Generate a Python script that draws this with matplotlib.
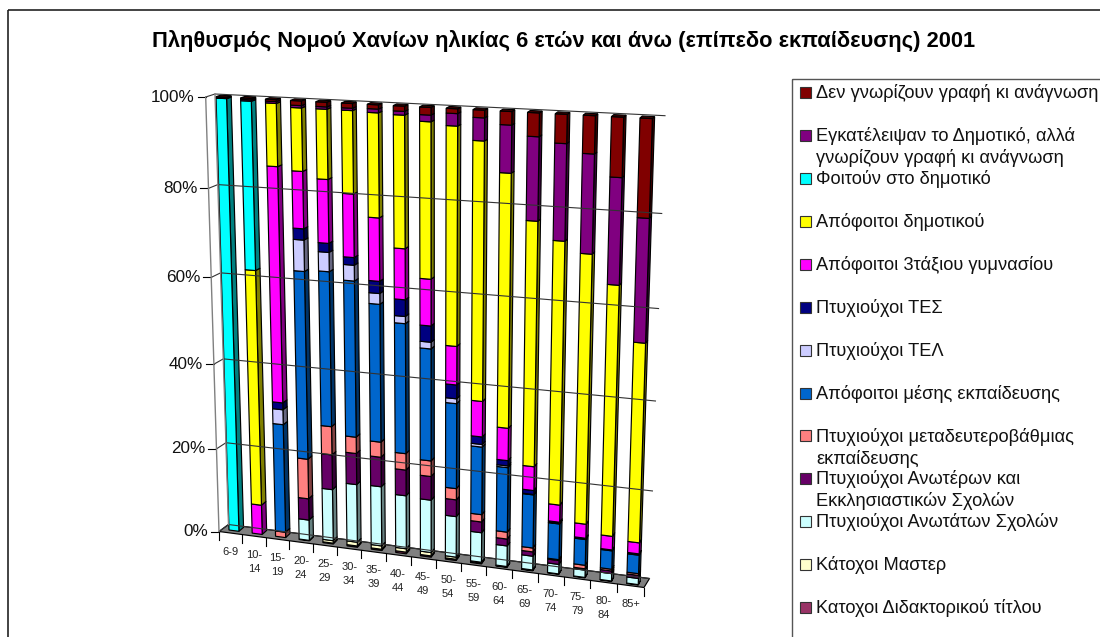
import numpy as np
import matplotlib
matplotlib.use('Agg')
import matplotlib.pyplot as plt
from matplotlib.colors import to_rgb
from matplotlib.patches import Rectangle

plt.rcParams['font.family'] = ['Liberation Sans', 'DejaVu Sans']

title = 'Πληθυσμός Νομού Χανίων ηλικίας 6 ετών και άνω (επίπεδο εκπαίδευσης) 2001'

ages = ['6-9', '10-\n14', '15-\n19', '20-\n24', '25-\n29', '30-\n34', '35-\n39', '40-\n44', '45-\n49',
        '50-\n54', '55-\n59', '60-\n64', '65-\n69', '70-\n74', '75-\n79', '80-\n84', '85+']
y_ticks = [0, 20, 40, 60, 80, 100]

# shares per age group, bottom of the stack first
didaktoriko = [0, 0, 0, 0, .2, .3, .3, .4, .3, .3, .2, .1, .1, 0, 0, 0, 0]
master = [0, 0, 0, .1, .6, .9, .8, .8, .8, .5, .2, .1, .1, .1, .1, .1, .1]
anotaton = [0, 0, 0, 4.9, 12.2, 13.7, 14, 12.5, 12.3, 9.5, 6.9, 4.8, 3.2, 2.2, 1.7, 1.7, 1.4]
anoteron = [0, 0, 0, 5.1, 8.2, 7.3, 6.9, 6, 5.5, 3.9, 2.5, 1.6, 1, .9, .3, .6, .7]
metadeut = [0, 0, 1.3, 9.4, 6.6, 3.8, 3.5, 3.8, 3.6, 2.6, 1.7, 1.6, .9, .2, .8, .4, .4]
mesi = [0, 0, 25.7, 43.2, 35.3, 35.5, 31.3, 29.5, 25.4, 19.4, 15.5, 14.8, 12.2, 8.2, 5.9, 4.2, 4.2]
tel = [0, 0, 3.5, 7, 4.3, 3.5, 2.4, 1.6, 1.5, 1.1, .6, .4, .1, .1, 0, 0, 0]
tes = [0, 0, 1.6, 2.5, 2, 1.7, 2.7, 3.7, 3.6, 3.1, 1.7, 1.2, .9, .3, .3, .2, .3]
gymnasio = [0, 7.1, 53.4, 12.6, 14, 13.9, 13.9, 11.2, 10.3, 8.6, 8, 7.3, 5.4, 3.9, 3.2, 3.1, 2.5]
dimotiko = [0, 54.9, 13.7, 13.7, 15.1, 17.9, 22.5, 28.6, 33.7, 47.4, 56.3, 55.3, 53.6, 57.8, 59.1, 55, 43.9]
foitoun = [99.7, 37.4, 0, 0, 0, 0, 0, 0, 0, 0, 0, 0, 0, 0, 0, 0, 0]
egkateleipsan = [.1, .3, .4, .5, .5, .5, .8, .8, 1.4, 2.6, 4.8, 10, 17.6, 20.3, 20.8, 22.4, 26.2]
den_gnorizoun = [.2, .3, .4, 1, 1, 1, .9, 1.1, 1.6, 1, 1.6, 2.8, 4.9, 6, 7.8, 12.3, 20.3]

series = [didaktoriko, master, anotaton, anoteron, metadeut, mesi, tel, tes,
          gymnasio, dimotiko, foitoun, egkateleipsan, den_gnorizoun]
colors = ['#993366', '#FFFFCC', '#CCFFFF', '#660066', '#FF8080', '#0066CC', '#CCCCFF', '#000080',
          '#FF00FF', '#FFFF00', '#00FFFF', '#800080', '#800000']

# legend runs top to bottom, so the reverse of the stack
legend_labels = ['Δεν γνωρίζουν γραφή κι ανάγνωση',
                 'Εγκατέλειψαν το Δημοτικό, αλλά\nγνωρίζουν γραφή κι ανάγνωση',
                 'Φοιτούν στο δημοτικό',
                 'Απόφοιτοι δημοτικού',
                 'Απόφοιτοι 3τάξιου γυμνασίου',
                 'Πτυχιούχοι ΤΕΣ',
                 'Πτυχιούχοι ΤΕΛ',
                 'Απόφοιτοι μέσης εκπαίδευσης',
                 'Πτυχιούχοι μεταδευτεροβάθμιας\nεκπαίδευσης',
                 'Πτυχιούχοι Ανωτέρων και\nΕκκλησιαστικών Σχολών',
                 'Πτυχιούχοι Ανωτάτων Σχολών',
                 'Κάτοχοι Μαστερ',
                 'Κατοχοι Διδακτορικού τίτλου']
legend_colors = colors[::-1]


def plane(bl, br, tr, tl):
  # homography from the unit square to pixels, the chart is an Excel 3D column
  src = [(0, 0), (1, 0), (1, 1), (0, 1)]
  A = []
  b = []
  for (u, v), (x, y) in zip(src, [bl, br, tr, tl]):
    A.append([u, v, 1, 0, 0, 0, -u * x, -v * x])
    A.append([0, 0, 0, u, v, 1, -u * y, -v * y])
    b += [x, y]
  h = np.linalg.solve(np.array(A, float), np.array(b, float))
  return np.append(h, 1).reshape(3, 3)


def project(H, u, v):
  p = H @ np.array([u, v, 1.0])
  return p[0] / p[2], p[1] / p[2]


bar_front = plane((229, 530), (626.7, 583.5), (640, 118), (216, 96.7))
bar_back = plane((233.7, 526), (628.7, 579.5), (642.3, 116), (220.7, 95.2))
wall_back = plane((228.5, 524.5), (649.5, 578.5), (665, 115.7), (215, 94))
wall_front = plane((219, 531.5), (644, 587.5), (659.5, 118.5), (205.7, 97))

n = len(ages)
bar_w = 0.43
dark = 0.5
edge = 0.85

fig = plt.figure(figsize=(11, 6.37), dpi=100)
ax = fig.add_axes([0, 0, 1, 1])
ax.set_xlim(0, 1100)
ax.set_ylim(637, 0)
ax.axis('off')

ax.add_patch(Rectangle((8, 10), 1200, 800, fill=False, edgecolor='#222222', lw=1.2))
ax.text(152, 41.5, title, fontsize=15.72, fontweight='bold', va='center', ha='left', color='black')

# floor
floor = [project(wall_front, 0, 0), project(wall_front, 1, 0), project(wall_back, 1, 0), project(wall_back, 0, 0)]
ax.fill(*zip(*floor), facecolor='#808080', edgecolor='black', lw=edge)

# walls and gridlines
for t in y_ticks:
  v = t / 100
  x0, y0 = project(wall_front, 0, v)
  x1, y1 = project(wall_back, 0, v)
  x2, y2 = project(wall_back, 1, v)
  ax.plot([x0, x1, x2], [y0, y1, y2], color='#333333', lw=0.8)
  ax.plot([x0 - 8, x0], [y0, y0], color='black', lw=0.8)
  ax.text(x0 - 11, y0, f'{t}%', fontsize=12.3, ha='right', va='center', color='#111111')

for H in (wall_front, wall_back):
  ax.plot(*zip(project(H, 0, 0), project(H, 0, 1)), color='#808080', lw=1)

# category axis
for i in range(n + 1):
  x, y = project(wall_front, i / n, 0)
  ax.plot([x, x], [y, y + 8], color='black', lw=0.8)
for i, age in enumerate(ages):
  x, y = project(wall_front, (i + 0.5) / n, 0)
  ax.text(x, y + 13.5, age, fontsize=8, ha='center', va='top', linespacing=1.5, color='#222222')

# bars
for i in range(n):
  total = sum(s[i] for s in series)
  left = i / (n - 1)
  right = (i + bar_w) / (n - 1)
  bottom = 0.0
  for s, color in zip(series, colors):
    share = s[i] / total
    if share == 0:
      continue
    top = bottom + share
    shade = tuple(c * dark for c in to_rgb(color))
    side = [project(bar_front, right, bottom), project(bar_back, right, bottom),
            project(bar_back, right, top), project(bar_front, right, top)]
    front = [project(bar_front, left, bottom), project(bar_front, right, bottom),
             project(bar_front, right, top), project(bar_front, left, top)]
    ax.fill(*zip(*side), facecolor=shade, edgecolor='black', lw=edge)
    ax.fill(*zip(*front), facecolor=color, edgecolor='black', lw=edge)
    bottom = top
  roof = [project(bar_front, left, 1), project(bar_front, right, 1),
          project(bar_back, right, 1), project(bar_back, left, 1)]
  ax.fill(*zip(*roof), facecolor=shade, edgecolor='black', lw=edge)

# legend
ax.add_patch(Rectangle((792, 79), 500, 800, fill=False, edgecolor='#555555', lw=1))
for j, (label, color) in enumerate(zip(legend_labels, legend_colors)):
  yc = 92.7 + j * 42.9
  ax.add_patch(Rectangle((799.5, yc - 5.5), 11, 11, facecolor=color, edgecolor='#333333', lw=0.8))
  ax.text(816, yc - 8.3, label, fontsize=13.15, ha='left', va='top', linespacing=1.28, color='#111111')

fig.savefig('out.png', dpi=100)
